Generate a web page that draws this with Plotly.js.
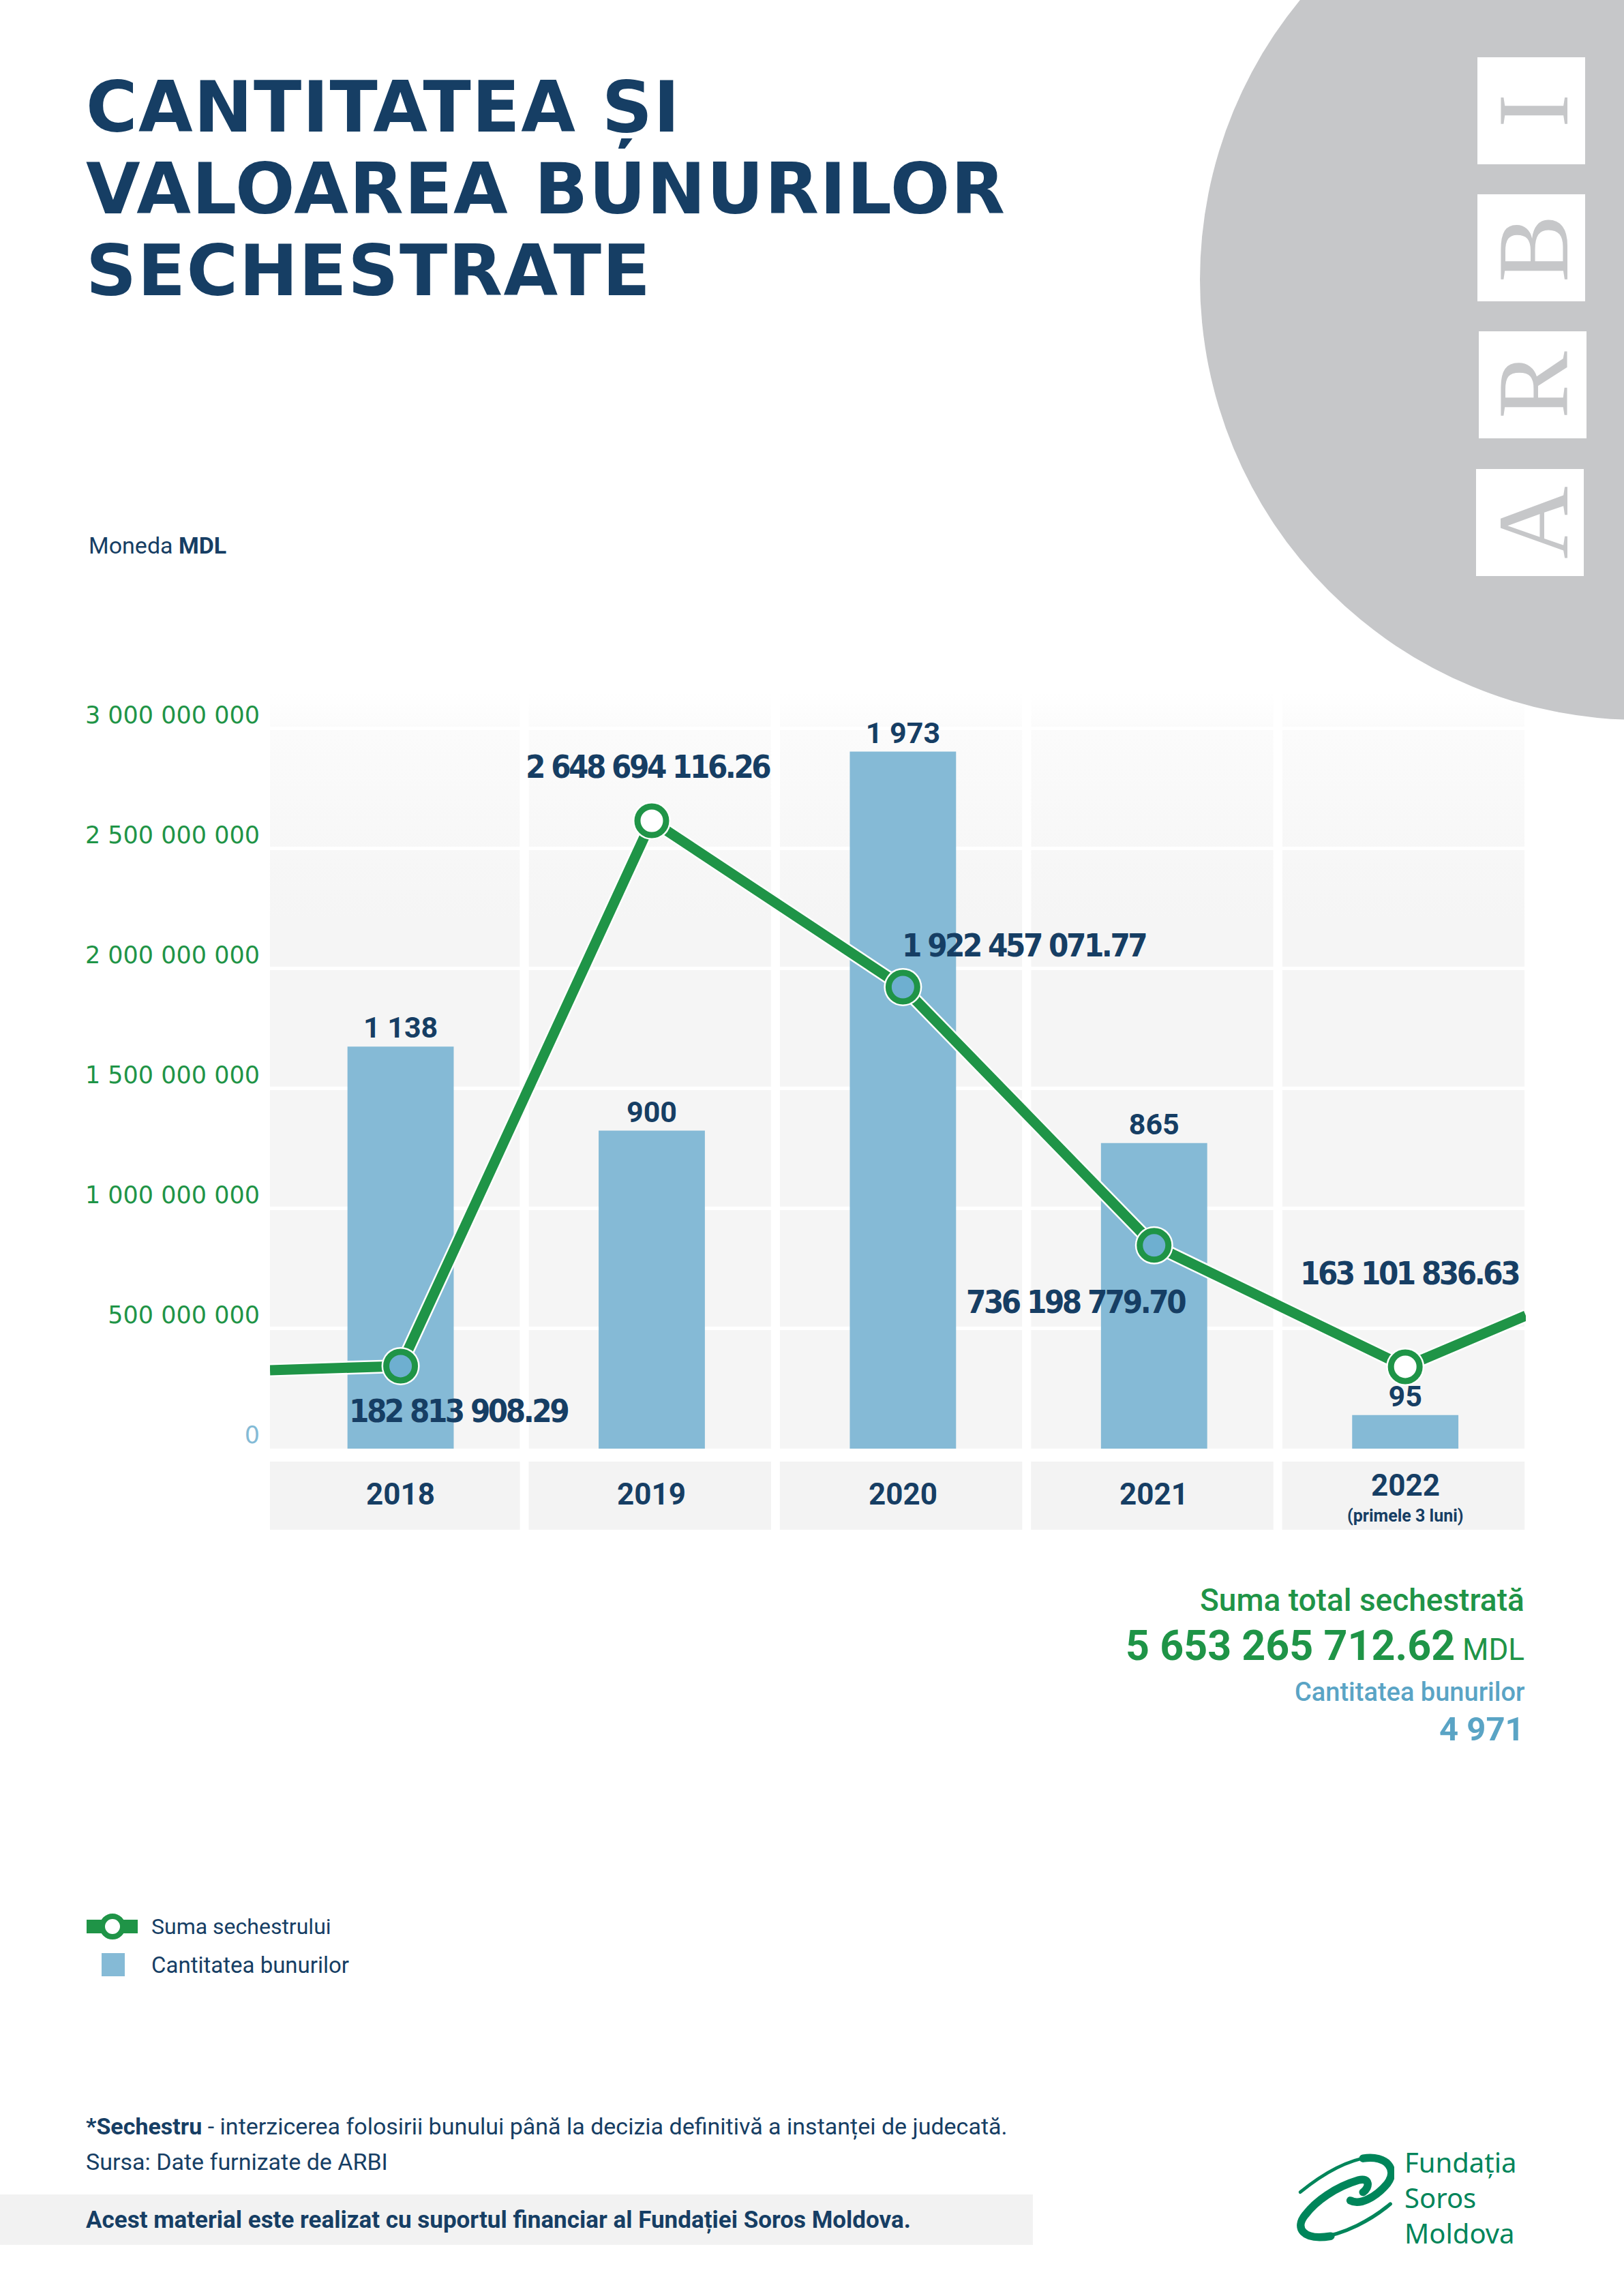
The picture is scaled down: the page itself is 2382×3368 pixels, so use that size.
<!DOCTYPE html>
<html><head><meta charset="utf-8">
<script src="https://cdn.plot.ly/plotly-3.0.1.min.js"></script>
<style>html,body{margin:0;padding:0;background:#fff}#chart{width:2382px;height:3368px}</style>
</head><body><div id="chart"></div>
<script>
// ---------------- DATA ----------------
const categories = ['2018', '2019', '2020', '2021', '2022'];
const categoryNotes = ['', '', '', '', '(primele 3 luni)'];
const itemCounts = [1138, 900, 1973, 865, 95];
const itemCountLabels = ['1 138', '900', '1 973', '865', '95'];
const seizedAmounts = [182813908.29, 2648694116.26, 1922457071.77, 736198779.70, 163101836.63];
const seizedAmountLabels = ['182 813 908.29', '2 648 694 116.26', '1 922 457 071.77', '736 198 779.70', '163 101 836.63'];
// heights at which the source graphic draws the line points
const lineDrawnLevels = [344e6, 2616e6, 1923e6, 847e6, 341e6];
// where the drawn line leaves the plot at the left and right edges
const lineEdgeLevels = [327e6, 554e6];
const yTickValues = [0, 5e8, 1e9, 1.5e9, 2e9, 2.5e9, 3e9];
const yTickLabels = ['0', '500 000 000', '1 000 000 000', '1 500 000 000', '2 000 000 000', '2 500 000 000', '3 000 000 000'];
const totalAmountLabel = '5 653 265 712.62';
const totalItemsLabel = '4 971';
const titleLines = ['CANTITATEA ȘI', 'VALOAREA BUNURILOR', 'SECHESTRATE'];
const logoLetters = ['I', 'B', 'R', 'A'];
const logoLines = ['Fundația', 'Soros', 'Moldova'];

// ---------------- STYLE ----------------
const NAVY = '#163e64', GREEN = '#1f9447', BAR = '#85bad6', BLUE = '#5aa4c5', GREY = '#c6c7c9', SOROS = '#00855a';
const PL = 396, PR = 2238, PT = 1016, PB = 2125, PW = PR - PL, PH = PB - PT;
const fx = p => (p - PL) / PW;
const fy = p => (PB - p) / PH;
const idx = categories.map((c, i) => i);
const XMIN = -0.52, XMAX = 4.48;
const panelL = idx.map(i => i === 0 ? XMIN : i - 0.49);
const panelR = idx.map(i => i + 0.475);
const ringFill = ['#6eafd0', '#ffffff', '#6eafd0', '#6eafd0', '#ffffff'];
const labelShift = [[85, -66], [-5, 80], [178, 61], [-115, -83], [6, 137]];

const lineX = [XMIN].concat(idx, [XMAX]);
const lineY = [lineEdgeLevels[0]].concat(lineDrawnLevels, [lineEdgeLevels[1]]);

const traces = [
  { type: 'bar', x: idx, y: itemCounts, width: 0.423, yaxis: 'y',
    marker: { color: BAR, line: { width: 0 } },
    text: itemCountLabels, textposition: 'outside', cliponaxis: false,
    textfont: { family: 'Roboto', size: 43, color: NAVY, weight: 700 },
    name: 'Cantitatea bunurilor', hoverinfo: 'x+y' },
  { type: 'scatter', mode: 'lines', x: lineX, y: lineY, yaxis: 'y2',
    line: { color: '#ffffff', width: 20 }, hoverinfo: 'skip' },
  { type: 'scatter', mode: 'lines', x: lineX, y: lineY, yaxis: 'y2',
    line: { color: GREEN, width: 15 }, hoverinfo: 'skip' },
  { type: 'scatter', mode: 'markers', x: idx, y: lineDrawnLevels, yaxis: 'y2',
    marker: { size: 56, color: '#ffffff' }, hoverinfo: 'skip' },
  { type: 'scatter', mode: 'markers', x: idx, y: lineDrawnLevels, yaxis: 'y2',
    customdata: seizedAmounts, name: 'Suma sechestrului',
    hovertemplate: '%{customdata:,.2f}<extra></extra>',
    marker: { size: 42, color: ringFill, line: { color: GREEN, width: 9 } } }
];

const gradSvg = "<svg xmlns='http://www.w3.org/2000/svg' width='100' height='1000' viewBox='0 0 100 1000' preserveAspectRatio='none'>" +
  "<defs><linearGradient id='g' x1='0' y1='0' x2='0' y2='1'>" +
  "<stop offset='0' stop-color='#ffffff'/><stop offset='0.05' stop-color='#fbfbfb'/>" +
  "<stop offset='0.3' stop-color='#f5f5f5'/><stop offset='1' stop-color='#f5f5f5'/></linearGradient></defs>" +
  "<rect x='0' y='0' width='100' height='1000' fill='url(#g)'/></svg>";
const gradUri = 'data:image/svg+xml;charset=utf-8,' + encodeURIComponent(gradSvg);

const swirlSvg = "<svg xmlns='http://www.w3.org/2000/svg' width='425' height='380' viewBox='150 175 425 380' preserveAspectRatio='none'>" +
  "<g fill='none' stroke='" + SOROS + "' stroke-linecap='round'>" +
  "<path d='M168,342 C250,275 360,205 470,190' stroke-width='14'/>" +
  "<path d='M440,196 C545,180 590,245 545,305 C495,365 425,400 385,378' stroke-width='34'/>" +
  "<path d='M558,393 C480,460 360,525 240,540' stroke-width='16'/>" +
  "<path d='M300,532 C175,552 145,495 190,440 C235,380 320,320 420,290 C470,276 470,322 440,342' stroke-width='34'/>" +
  "</g></svg>";
const swirlUri = 'data:image/svg+xml;charset=utf-8,' + encodeURIComponent(swirlSvg);

const images = idx.map(i => ({
  source: gradUri, xref: 'x', yref: 'paper', x: panelL[i], y: 1, sizex: panelR[i] - panelL[i], sizey: 1,
  xanchor: 'left', yanchor: 'top', sizing: 'stretch', layer: 'below'
}));
images.push({ source: swirlUri, xref: 'paper', yref: 'paper', x: fx(1901), y: fy(3159),
  sizex: 144 / PW, sizey: 129 / PH, xanchor: 'left', yanchor: 'top', sizing: 'stretch', layer: 'above' });

const shapes = [];
// grey circle with ARBI boxes
shapes.push({ type: 'circle', xref: 'paper', yref: 'paper', x0: fx(2406 - 646), x1: fx(2406 + 646),
  y0: fy(410 + 646), y1: fy(410 - 646), fillcolor: GREY, line: { width: 0 }, layer: 'below' });
const letterBoxes = [[2167, 84], [2167, 285], [2169, 486], [2165, 688]];
letterBoxes.forEach(b => shapes.push({ type: 'rect', xref: 'paper', yref: 'paper',
  x0: fx(b[0]), x1: fx(b[0] + 158), y0: fy(b[1] + 157), y1: fy(b[1]),
  fillcolor: '#ffffff', line: { width: 0 }, layer: 'below' }));
// category label boxes
idx.forEach(i => shapes.push({ type: 'rect', xref: 'x', yref: 'paper', x0: panelL[i], x1: panelR[i],
  y0: fy(2244), y1: fy(2144), fillcolor: '#f3f3f3', line: { width: 0 }, layer: 'below' }));
// footer band
shapes.push({ type: 'rect', xref: 'paper', yref: 'paper', x0: fx(0), x1: fx(1515), y0: fy(3293), y1: fy(3219),
  fillcolor: '#f2f2f2', line: { width: 0 }, layer: 'below' });
// custom legend symbols
shapes.push({ type: 'line', xref: 'paper', yref: 'paper', x0: fx(127), x1: fx(202), y0: fy(2826), y1: fy(2826),
  line: { color: GREEN, width: 20 }, layer: 'above' });
shapes.push({ type: 'circle', xref: 'paper', yref: 'paper', x0: fx(150), x1: fx(180), y0: fy(2841), y1: fy(2811),
  fillcolor: '#ffffff', line: { color: GREEN, width: 8 }, layer: 'above' });
shapes.push({ type: 'rect', xref: 'paper', yref: 'paper', x0: fx(149), x1: fx(183), y0: fy(2899), y1: fy(2865),
  fillcolor: BAR, line: { width: 0 }, layer: 'above' });

const ann = [];
const A = (text, x, y, size, color, opts) => ann.push(Object.assign({
  text: text, xref: 'paper', yref: 'paper', x: fx(x), y: fy(y), showarrow: false,
  xanchor: 'left', yanchor: 'middle', font: { family: 'Roboto', size: size, color: color }
}, opts || {}));

// title
const titleY = [157, 277, 397];
titleLines.forEach((t, i) => A('<span style="letter-spacing:1.5px">' + t + '</span>', 124, titleY[i], 103, NAVY,
  { font: { family: 'DejaVu Sans', size: 103, color: NAVY, weight: 700 } }));
// ARBI letters
const letterY = [163, 365, 565, 767];
logoLetters.forEach((l, i) => A(l, 2249, letterY[i], 148, GREY,
  { xanchor: 'center', textangle: -90, font: { family: 'Liberation Serif', size: 148, color: GREY } }));
// currency note
A('Moneda <b>MDL</b>', 128, 800, 34, NAVY);
// category labels
categories.forEach((c, i) => ann.push({ text: '<b>' + c + '</b>', xref: 'x', yref: 'paper', x: i,
  y: fy(categoryNotes[i] ? 2179 : 2192), showarrow: false, xanchor: 'center', yanchor: 'middle',
  font: { family: 'Roboto', size: 44, color: NAVY } }));
categoryNotes.forEach((n, i) => { if (n) ann.push({ text: '<b>' + n + '</b>', xref: 'x', yref: 'paper', x: i,
  y: fy(2223), showarrow: false, xanchor: 'center', yanchor: 'middle',
  font: { family: 'Roboto', size: 25, color: NAVY } }); });
// amount labels on the line
seizedAmountLabels.forEach((t, i) => ann.push({ text: '<span style="letter-spacing:-3.5px">' + t + '</span>',
  xref: 'x', yref: 'y2', x: i, y: lineDrawnLevels[i],
  xshift: labelShift[i][0], yshift: labelShift[i][1], showarrow: false, xanchor: 'center', yanchor: 'middle',
  font: { family: 'DejaVu Sans Condensed, sans-serif', size: 47, color: NAVY, weight: 700 } }));
// totals
A('Suma total sechestrată', 2238, 2347, 46, GREEN, { xanchor: 'right', font: { family: 'Roboto', size: 46, color: GREEN, weight: 500 } });
A('<b>' + totalAmountLabel + '</b><span style="font-size:44px"> MDL</span>', 2238, 2414, 61, GREEN, { xanchor: 'right' });
A('Cantitatea bunurilor', 2238, 2482, 38, BLUE, { xanchor: 'right', font: { family: 'Roboto', size: 38, color: BLUE, weight: 500 } });
A('<b>' + totalItemsLabel + '</b>', 2238, 2536, 49, BLUE, { xanchor: 'right' });
// legend texts
A('Suma sechestrului', 220, 2826, 32, NAVY);
A('Cantitatea bunurilor', 220, 2882, 33, NAVY);
// footer
A('<b>*Sechestru</b> - interzicerea folosirii bunului până la decizia definitivă a instanței de judecată.', 124, 3119, 34, NAVY);
A('Sursa: Date furnizate de ARBI', 124, 3171, 34, NAVY);
A('<b>Acest material este realizat cu suportul financiar al Fundației Soros Moldova.</b>', 124, 3256, 35, NAVY);
// Soros logo text
A(logoLines.join('<br>'), 2058, 3223, 40, SOROS, { align: 'left', font: { family: 'Noto Sans', size: 40, color: SOROS } });

const layout = {
  width: 2382, height: 3368,
  margin: { l: PL, r: 2382 - PR, t: PT, b: 3368 - PB, pad: 0 },
  paper_bgcolor: '#ffffff', plot_bgcolor: 'rgba(0,0,0,0)',
  showlegend: false,
  xaxis: { range: [XMIN, XMAX], visible: false, fixedrange: true },
  yaxis: { range: [0, 2140], visible: false, fixedrange: true },
  yaxis2: { overlaying: 'y', side: 'left', range: [0, 3.15e9], tickmode: 'array',
    tickvals: yTickValues,
    ticktext: yTickLabels.map((t, i) => i === 0 ? '<span style="color:#84bbd6">' + t + '</span>' : t),
    showgrid: true, gridcolor: '#ffffff', gridwidth: 5, zeroline: false, showline: false, ticks: '',
    tickfont: { family: 'DejaVu Sans', size: 35, color: GREEN },
    ticklabelstandoff: 14, ticklabelshift: -20, fixedrange: true },
  shapes: shapes, annotations: ann, images: images
};

Plotly.newPlot('chart', traces, layout, { displayModeBar: false, staticPlot: true });
</script></body></html>
